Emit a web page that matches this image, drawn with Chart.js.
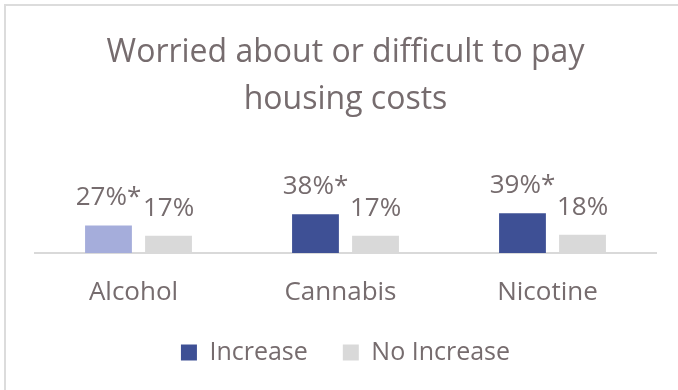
<!DOCTYPE html>
<html>
<head>
<meta charset="utf-8">
<script src="https://cdn.jsdelivr.net/npm/chart.js@4/dist/chart.umd.min.js"></script>
<style>
  html, body { margin: 0; padding: 0; background: #fff; }
  #wrap { position: relative; width: 678px; height: 390px; overflow: hidden; }
  #frame {
    position: absolute; left: 4px; top: 4px; width: 700px; height: 400px;
    border-top: 2px solid #dcdcdc; border-left: 2px solid #dcdcdc;
  }
  #chart { position: absolute; left: 0; top: 0; }
</style>
</head>
<body>
<div id="wrap">
  <div id="frame"></div>
  <canvas id="chart" width="678" height="390"></canvas>
</div>
<script>
// Housing cost worries by substance use change
const categories = ['Alcohol', 'Cannabis', 'Nicotine'];
const seriesNames = ['Increase', 'No Increase'];
const increaseValues = [27, 38, 39];
const noIncreaseValues = [17, 17, 18];
const increaseMarks = ['*', '*', '*'];
const noIncreaseMarks = ['', '', ''];

const increaseColors = ['#a5addb', '#3e5095', '#3e5095'];
const legendColors = ['#3e5095', '#d9d9d9'];
const noIncreaseColor = '#d9d9d9';
const textColor = '#766c6e';
const fontFamily = '"Open Sans", sans-serif';

// draws "27%*" style labels centred above each bar
const barLabels = {
    id: 'barLabels',
    afterDatasetsDraw(chart) {
        const ctx = chart.ctx;
        ctx.save();
        ctx.font = '26px ' + fontFamily;
        ctx.fillStyle = textColor;
        ctx.textAlign = 'center';
        ctx.textBaseline = 'alphabetic';
        chart.data.datasets.forEach((ds, i) => {
            const meta = chart.getDatasetMeta(i);
            meta.data.forEach((bar, j) => {
                const text = ds.data[j] + '%' + ds.marks[j];
                ctx.fillText(text, bar.x, bar.y - 20);
            });
        });
        ctx.restore();
    }
};

const ctx = document.getElementById('chart').getContext('2d');
new Chart(ctx, {
    type: 'bar',
    data: {
        labels: categories,
        datasets: [{
            label: seriesNames[0],
            data: increaseValues,
            marks: increaseMarks,
            backgroundColor: increaseColors,
            borderWidth: 0
        }, {
            label: seriesNames[1],
            data: noIncreaseValues,
            marks: noIncreaseMarks,
            backgroundColor: noIncreaseColor,
            borderWidth: 0
        }]
    },
    options: {
        responsive: false,
        animation: false,
        events: [],
        categoryPercentage: 0.58,
        barPercentage: 0.78,
        layout: {
            padding: { top: 0, left: 35, right: 22, bottom: 15 }
        },
        scales: {
            y: {
                display: false,
                min: 0,
                max: 100
            },
            x: {
                grid: { display: false, drawTicks: false },
                border: { color: '#d9d9d9', width: 2 },
                ticks: {
                    color: textColor,
                    padding: 24,
                    labelOffset: -5,
                    font: { family: fontFamily, size: 26 }
                },
                // keep the category row compact so the legend sits close below it
                afterFit(scale) {
                    scale.height = 52;
                }
            }
        },
        plugins: {
            title: {
                display: true,
                text: ['Worried about or difficult to pay', 'housing costs'],
                color: textColor,
                font: { family: fontFamily, size: 32, weight: 'normal', lineHeight: 1.47 },
                padding: { top: 29, bottom: 28 }
            },
            legend: {
                position: 'bottom',
                labels: {
                    color: textColor,
                    boxWidth: 16,
                    boxHeight: 16,
                    padding: 35,
                    font: { family: fontFamily, size: 25 },
                    generateLabels(chart) {
                        const items = Chart.defaults.plugins.legend.labels.generateLabels(chart);
                        items.forEach((item, i) => {
                            item.fillStyle = legendColors[i];
                            item.strokeStyle = legendColors[i];
                            item.lineWidth = 0;
                        });
                        return items;
                    }
                }
            },
            tooltip: { enabled: false }
        }
    },
    plugins: [barLabels]
});
</script>
</body>
</html>
